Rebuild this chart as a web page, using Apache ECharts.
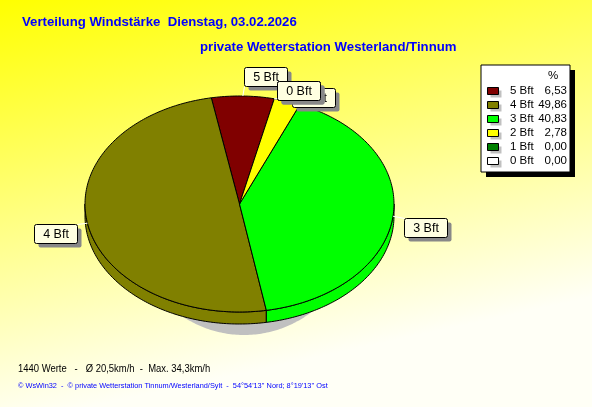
<!DOCTYPE html>
<html><head><meta charset="utf-8">
<script src="https://cdn.jsdelivr.net/npm/echarts@6/dist/echarts.min.js"></script>
<style>html,body{margin:0;padding:0;}#c{width:592px;height:407px;}</style>
</head><body><div id="c"></div>
<script>
// ---- data ----
const categories = ['5 Bft', '4 Bft', '3 Bft', '2 Bft', '1 Bft', '0 Bft'];
const percentValues = [6.53, 49.86, 40.83, 2.78, 0.00, 0.00];
const sliceColors = ['#800000', '#808000', '#00ff00', '#ffff00', '#008000', '#ffffff'];
const titleText = 'Verteilung Windstärke  Dienstag, 03.02.2026';
const subtitleText = 'private Wetterstation Westerland/Tinnum';
const legendHeader = '%';
const footerStats = '1440 Werte   -   Ø 20,5km/h  -  Max. 34,3km/h';
const footerCopy = '© WsWin32  -  © private Wetterstation Tinnum/Westerland/Sylt  -  54°54\'13\'\' Nord; 8°19\'13\'\' Ost';

// ---- layout ----
const PIE = { cx: 239.5, cy: 204, rx: 154.5, ry: 108, depth: 12, startAngle: 77 };
const SHADOW = { cx: 244, cy: 226, rx: 110, ry: 109 };
// label offsets from each slice's mid-angle edge point
const labelOffsets = [[23, -20], [-32, 10], [32, 11], [26, -4], [24, -8], [24, -8]];
const LBOX = { w: 43, h: 19 };

const total = percentValues.reduce((a, b) => a + b, 0);
const slices = [];
let acc = PIE.startAngle;
percentValues.forEach((v, i) => {
  const sweep = v / total * 360;
  slices.push({ s: acc, e: acc + sweep, mid: acc + sweep / 2 });
  acc += sweep;
});

function pt(a, dy) {
  const r = a * Math.PI / 180;
  return [PIE.cx + PIE.rx * Math.cos(r), PIE.cy - PIE.ry * Math.sin(r) + (dy || 0)];
}
function arc(s, e, dy) {
  const n = Math.max(2, Math.ceil(Math.abs(e - s) / 1));
  const out = [];
  for (let k = 0; k <= n; k++) out.push(pt(s + (e - s) * k / n, dy));
  return out;
}
function ellipsePts(o) {
  const out = [];
  for (let k = 0; k < 360; k++) {
    const r = k * Math.PI / 180;
    out.push([o.cx + o.rx * Math.cos(r), o.cy + o.ry * Math.sin(r)]);
  }
  return out;
}

const chart = echarts.init(document.getElementById('c'), null, { renderer: 'canvas' });

const idx = categories.map((c, i) => i);

// legend graphics built from arrays
const legendEls = [];
const LG = { x: 481, y: 65, w: 89, h: 107, row0: 91, rowH: 14 };
const LFONT = '11.5px "Liberation Sans", Arial';
legendEls.push({ type: 'rect', shape: { x: LG.x + 5, y: LG.y + 5, width: LG.w, height: LG.h }, style: { fill: '#000' }, z: 10 });
legendEls.push({ type: 'rect', shape: { x: LG.x, y: LG.y, width: LG.w, height: LG.h }, style: { fill: '#fff', stroke: '#000', lineWidth: 1 }, z: 11 });
legendEls.push({ type: 'text', x: 553, y: 76, style: { text: legendHeader, fill: '#000', font: LFONT, align: 'center', verticalAlign: 'middle' }, z: 12 });
categories.forEach((c, i) => {
  const y = LG.row0 + i * LG.rowH;
  legendEls.push({ type: 'rect', shape: { x: 490.5, y: y - 0.5, width: 11, height: 7 }, style: { fill: '#c0c0c0' }, z: 12 });
  legendEls.push({ type: 'rect', shape: { x: 487.5, y: y - 3.5, width: 11, height: 7 }, style: { fill: sliceColors[i], stroke: '#000', lineWidth: 1 }, z: 13 });
  legendEls.push({ type: 'text', x: 510, y: y, style: { text: c, fill: '#000', font: LFONT, align: 'left', verticalAlign: 'middle' }, z: 13 });
  legendEls.push({ type: 'text', x: 567, y: y, style: { text: percentValues[i].toFixed(2).replace('.', ','), fill: '#000', font: LFONT, align: 'right', verticalAlign: 'middle' }, z: 13 });
});

const option = {
  backgroundColor: {
    type: 'linear', x: 0, y: 0, x2: 0.15, y2: 1,
    colorStops: [{ offset: 0, color: '#ffff00' }, { offset: 0.45, color: '#ffff70' }, { offset: 1, color: '#fffff6' }]
  },
  animation: false,
  graphic: [
    { type: 'text', x: 22, y: 28.5, style: { text: titleText, fill: '#0000ff', font: 'bold 13.2px "Liberation Sans", Arial', verticalAlign: 'bottom' } },
    { type: 'text', x: 200, y: 53.5, style: { text: subtitleText, fill: '#0000ff', font: 'bold 13.2px "Liberation Sans", Arial', verticalAlign: 'bottom' } },
    { type: 'text', x: 18, y: 369, scaleX: 0.86, style: { text: footerStats, fill: '#000', font: '11px "Liberation Sans", Arial', verticalAlign: 'middle' } },
    { type: 'text', x: 18, y: 386, scaleX: 0.92, style: { text: footerCopy, fill: '#0000ff', font: '8px "Liberation Sans", Arial', verticalAlign: 'middle' } }
  ].concat(legendEls),
  series: [
    {
      type: 'custom', coordinateSystem: 'none', z: 1, silent: true,
      data: [0],
      renderItem: function () {
        return { type: 'polygon', shape: { points: ellipsePts(SHADOW) }, style: { fill: '#c0c0c0' } };
      }
    },
    {
      type: 'custom', coordinateSystem: 'none', z: 2, silent: true,
      data: idx,
      renderItem: function (params) {
        const sl = slices[params.dataIndex];
        const children = [];
        if (sl.e - sl.s <= 0) return { type: 'group', children: [] };
        [[180, 360], [540, 720]].forEach(function (rng) {
          const a = Math.max(sl.s, rng[0]), b = Math.min(sl.e, rng[1]);
          if (b > a) {
            const pts = arc(a, b, 0).concat(arc(b, a, PIE.depth));
            children.push({ type: 'polygon', shape: { points: pts }, style: { fill: sliceColors[params.dataIndex], stroke: '#000', lineWidth: 1 } });
          }
        });
        return { type: 'group', children: children };
      }
    },
    {
      type: 'custom', coordinateSystem: 'none', z: 3, silent: true,
      data: idx,
      renderItem: function (params) {
        const sl = slices[params.dataIndex];
        if (sl.e - sl.s <= 0) return { type: 'group', children: [] };
        const pts = [[PIE.cx, PIE.cy]].concat(arc(sl.s, sl.e, 0));
        return { type: 'polygon', shape: { points: pts }, style: { fill: sliceColors[params.dataIndex], stroke: '#000', lineWidth: 1 } };
      }
    },
    {
      type: 'custom', coordinateSystem: 'none', z: 4, silent: true,
      data: idx,
      renderItem: function (params) {
        const i = params.dataIndex;
        const sl = slices[i];
        const p = pt(sl.mid, 0);
        const cxl = p[0] + labelOffsets[i][0], cyl = p[1] + labelOffsets[i][1];
        const x0 = Math.round(cxl - LBOX.w / 2) + 0.5, y0 = Math.round(cyl - LBOX.h / 2) + 0.5;
        const nx = Math.min(Math.max(p[0], x0), x0 + LBOX.w);
        const ny = Math.min(Math.max(p[1], y0), y0 + LBOX.h);
        return {
          type: 'group', children: [
            { type: 'line', shape: { x1: p[0], y1: p[1], x2: nx, y2: ny }, style: { stroke: '#ffffff', lineWidth: 1 } },
            { type: 'rect', shape: { x: x0 + 4, y: y0 + 4, width: LBOX.w, height: LBOX.h, r: 2 }, style: { fill: '#888888' } },
            { type: 'rect', shape: { x: x0, y: y0, width: LBOX.w, height: LBOX.h, r: 2 }, style: { fill: '#ffffe1', stroke: '#000', lineWidth: 1 } },
            { type: 'text', x: x0 + LBOX.w / 2, y: y0 + LBOX.h / 2 + 0.5, style: { text: categories[i], fill: '#000', font: '12.5px "Liberation Sans", Arial', align: 'center', verticalAlign: 'middle' } }
          ]
        };
      }
    }
  ]
};
chart.setOption(option);
</script>
</body></html>
